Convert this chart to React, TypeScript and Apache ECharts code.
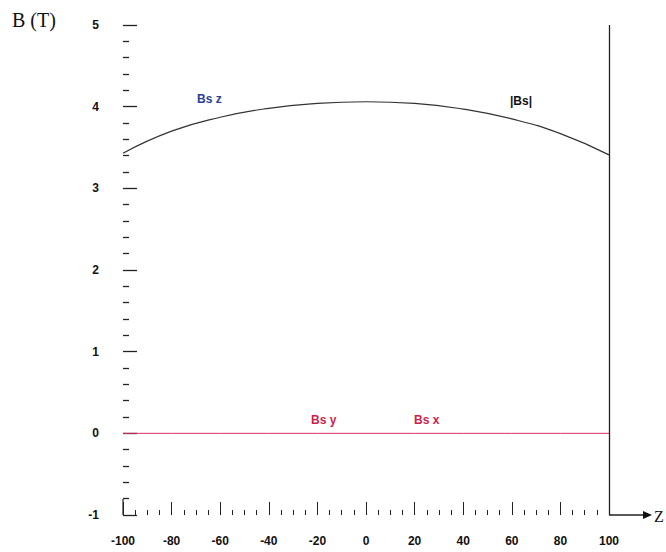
import React, { useEffect, useRef } from "react";
import * as echarts from "echarts";

const zValues = [-100, -80, -60, -40, -20, 0, 20, 40, 60, 80, 100];
const bsAbs = [3.43, 3.7, 3.87, 3.98, 4.04, 4.06, 4.04, 3.97, 3.85, 3.67, 3.41];
const bsXY = [0, 0, 0, 0, 0, 0, 0, 0, 0, 0, 0];
const xTicks = { min: -100, max: 100, interval: 20 };
const yTicks = { min: -1, max: 5, interval: 1 };

export default function App() {
  const ref = useRef<HTMLDivElement>(null);
  useEffect(() => {
    if (!ref.current) return;
    const chart = echarts.init(ref.current, null, { renderer: "svg" });
    const lblFont = { fontFamily: "Liberation Sans, Arial, sans-serif", fontWeight: "bold" as const, fontSize: 12, color: "#111" };
    const noteFont = "bold 12px 'Liberation Sans', Arial, sans-serif";
    chart.setOption({
      animation: false,
      backgroundColor: "#fff",
      grid: { left: 123, right: 57, top: 25, bottom: 37 },
      xAxis: {
        type: "value",
        min: xTicks.min,
        max: xTicks.max,
        interval: xTicks.interval,
        axisLine: { show: false, onZero: false },
        axisTick: { show: true, inside: true, length: 13, lineStyle: { color: "#222", width: 1 } },
        minorTick: { show: true, splitNumber: 4, length: 5, lineStyle: { color: "#222", width: 1 } },
        splitLine: { show: false },
        axisLabel: { ...lblFont, margin: 20 },
      },
      yAxis: {
        type: "value",
        min: yTicks.min,
        max: yTicks.max,
        interval: yTicks.interval,
        axisLine: { show: false, onZero: false },
        axisTick: { show: true, inside: true, length: 14, lineStyle: { color: "#222", width: 1.3 } },
        minorTick: { show: true, splitNumber: 5, length: 6, lineStyle: { color: "#222", width: 1.3 } },
        splitLine: { show: false },
        axisLabel: { ...lblFont, margin: 24 },
      },
      series: [
        {
          type: "line",
          data: zValues.map((z, i) => [z, bsAbs[i]]),
          smooth: true,
          showSymbol: false,
          lineStyle: { color: "#333", width: 1.2 },
          z: 3,
        },
        {
          type: "line",
          data: zValues.map((z, i) => [z, bsXY[i]]),
          showSymbol: false,
          lineStyle: { color: "#dc2c66", width: 1 },
          markLine: {
            silent: true,
            symbol: "none",
            label: { show: false },
            lineStyle: { color: "#222", width: 1.3, type: "solid" },
            data: [[{ coord: [100, 5] }, { coord: [100, -1] }]],
          },
        },
      ],
      graphic: [
        { type: "text", left: 12, top: 10, style: { text: "B (T)", font: "20px 'Liberation Serif', serif", fill: "#111" } },
        { type: "line", shape: { x1: 609, y1: 515, x2: 646, y2: 515 }, style: { stroke: "#222", lineWidth: 1.3 } },
        { type: "polygon", shape: { points: [[643, 511], [652, 515], [643, 519]] }, style: { fill: "#111" } },
        { type: "text", x: 654, y: 508, style: { text: "Z", font: "16px 'Liberation Serif', serif", fill: "#111" } },
        { type: "line", shape: { x1: 123, y1: 499, x2: 123, y2: 515 }, style: { stroke: "#222", lineWidth: 1.2 } },
        { type: "text", x: 197, y: 93, style: { text: "Bs z", font: noteFont, fill: "#2a3f9a" } },
        { type: "text", x: 510, y: 95, style: { text: "|Bs|", font: noteFont, fill: "#111" } },
        { type: "text", x: 311, y: 414, style: { text: "Bs y", font: noteFont, fill: "#d11f4b" } },
        { type: "text", x: 414, y: 414, style: { text: "Bs x", font: noteFont, fill: "#d11f4b" } },
      ],
    });
    return () => chart.dispose();
  }, []);
  return <div ref={ref} style={{ width: 666, height: 552, position: "absolute", left: 0, top: 0 }} />;
}
